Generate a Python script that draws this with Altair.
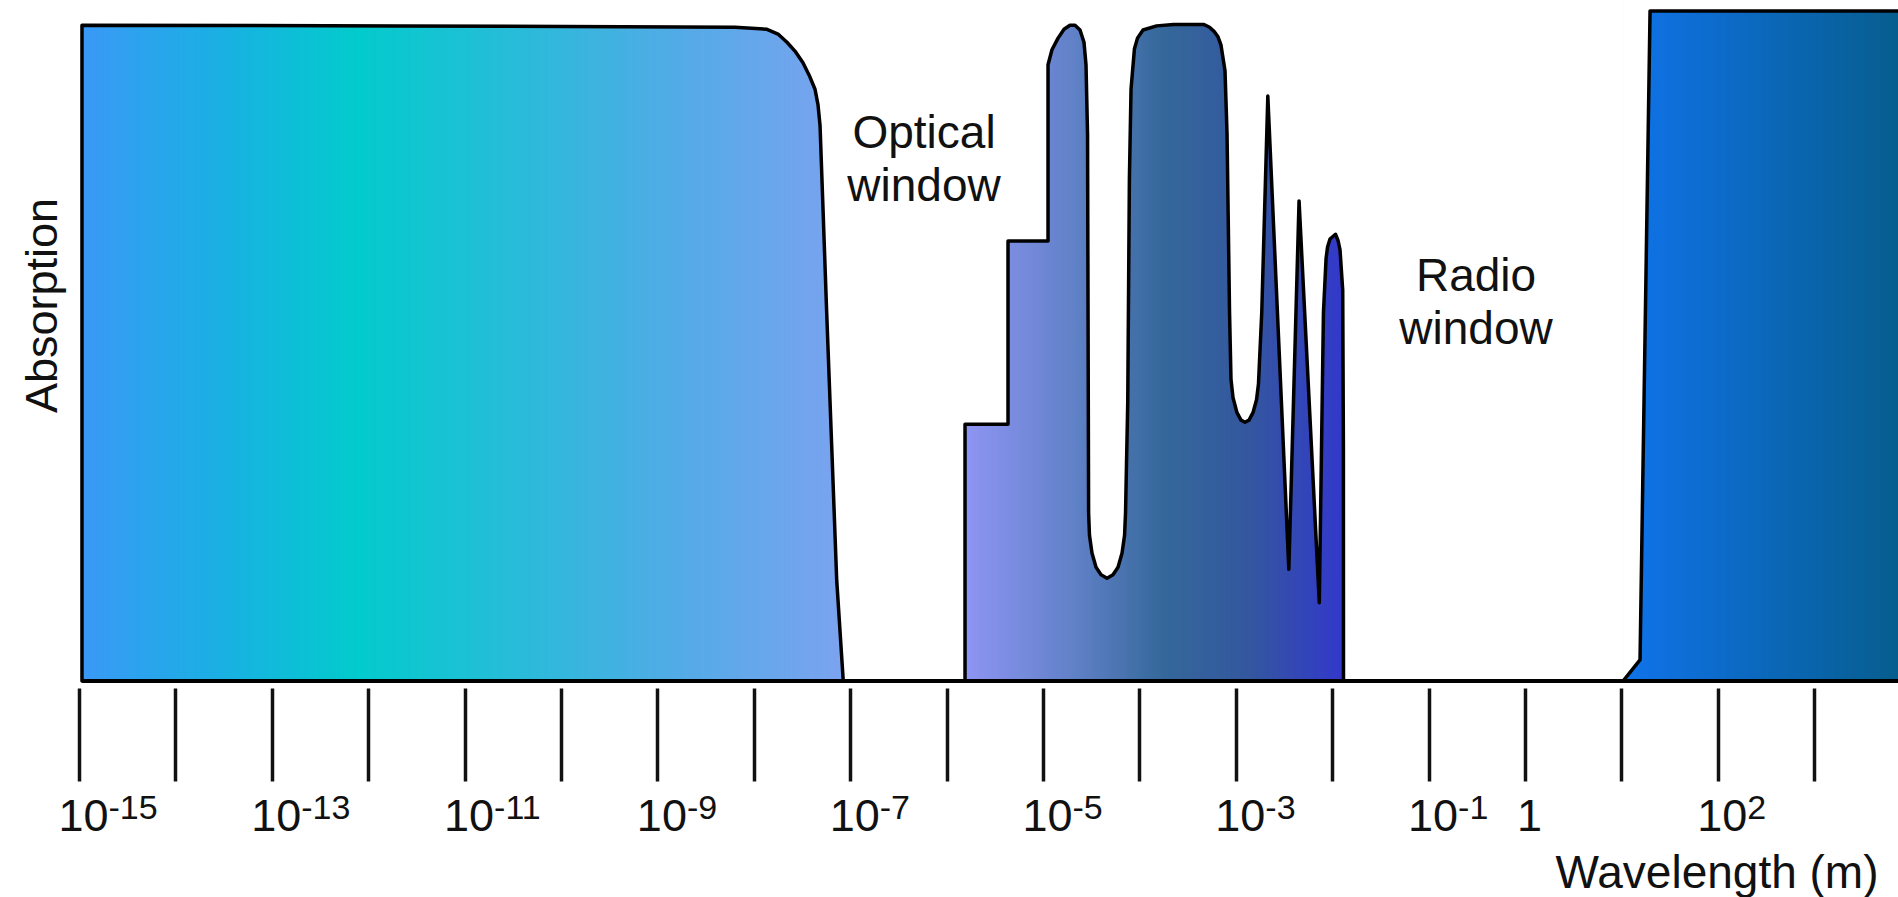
import altair as alt
import pandas as pd

# ---- data: x = log10(wavelength / m), y = absorption (% of full height)
gamma_logw = [-14.969, -14.969, -11.670, -8.195, -7.863, -7.749, -7.656, -7.573, -7.490,
              -7.427, -7.365, -7.334, -7.313, -7.285, -7.244, -7.192, -7.140, -7.072]
gamma_abs = [0.0, 96.3, 96.2, 96.0, 95.7, 95.0, 93.8, 92.5, 90.8,
             89.0, 86.9, 84.6, 81.6, 70.5, 54.1, 34.5, 14.8, 0.0]

ir_logw = [-5.809, -5.809, -5.363, -5.363, -4.948, -4.948, -4.907, -4.844, -4.782, -4.720,
           -4.668, -4.616, -4.575, -4.554, -4.538, -4.527, -4.518, -4.492, -4.450, -4.398,
           -4.336, -4.274, -4.222, -4.180, -4.154, -4.144, -4.121, -4.104, -4.087, -4.052,
           -4.020, -3.963, -3.822, -3.646, -3.330, -3.273, -3.226, -3.185, -3.154, -3.112,
           -3.091, -3.065, -3.050, -3.029, -2.988, -2.946, -2.905, -2.863, -2.822, -2.785,
           -2.765, -2.749, -2.731, -2.668, -2.450, -2.344, -2.134, -2.091, -2.064, -2.049,
           -2.023, -1.966, -1.940, -1.919, -1.891, -1.884, -1.883]
ir_abs = [0.0, 37.7, 37.7, 64.6, 64.6, 90.5, 92.7, 94.4, 95.7, 96.3,
          96.3, 95.6, 93.8, 90.5, 80.3, 24.7, 21.4, 18.8, 16.7, 15.6,
          15.1, 15.6, 16.7, 18.8, 21.4, 24.7, 41.0, 73.7, 86.9, 92.8,
          94.4, 95.6, 96.2, 96.4, 96.4, 96.0, 95.4, 94.6, 93.4, 89.6,
          80.3, 54.1, 44.3, 41.6, 39.4, 38.3, 38.0, 38.3, 39.4, 41.3,
          43.6, 48.6, 54.1, 85.9, 16.4, 70.5, 11.5, 54.1, 62.0, 63.7,
          64.9, 65.6, 64.7, 63.3, 57.4, 34.5, 0.0]

X_MIN, X_MAX = -15.197, 3.869

radio_logw = [1.017, 1.193, 1.297, X_MAX]
radio_abs = [0.0, 3.1, 98.4, 98.4]

tick_exponents = [-15, -14, -13, -12, -11, -10, -9, -8, -7, -6, -5, -4, -3, -2, -1, 0, 1, 2, 3]
labelled_exponents = [-15, -13, -11, -9, -7, -5, -3, -1, 0, 2]

annot_text = ["Optical\nwindow", "Radio\nwindow"]
annot_logw = [-6.234, -0.508]
annot_abs = [78.3, 57.3]

# colour stops of each block's left-to-right gradient (offset 0..1 across the block)
gamma_colors = ["#3A99F6", "#1AB0E3", "#03CBCC", "#25BDD8", "#52ABE6", "#7CA3F0"]
gamma_offsets = [0.0, 0.18, 0.36, 0.55, 0.78, 1.0]
ir_colors = ["#8E95F3", "#5E80C5", "#35689A", "#34579F", "#3338CC"]
ir_offsets = [0.0, 0.3, 0.52, 0.75, 1.0]
radio_colors = ["#1073EA", "#075E8E"]
radio_offsets = [0.0, 1.0]

W, H = 1838, 681
FONT = "Liberation Sans"
BAND_STEP = 0.02

xs = alt.Scale(domain=[X_MIN, X_MAX], nice=False, zero=False)
ys = alt.Scale(domain=[0, 100], nice=False, zero=True)


def stops(logw, offsets):
    a, b = logw[0], logw[-1]
    return [a + o * (b - a) for o in offsets]


color_domain = (stops(gamma_logw, gamma_offsets) + stops(ir_logw, ir_offsets)
                + stops(radio_logw, radio_offsets))
color_range = gamma_colors + ir_colors + radio_colors
cs = alt.Scale(domain=color_domain, range=color_range, interpolate="rgb")

y_axis = alt.Axis(title="Absorption", labels=False, ticks=False, domain=False, grid=False,
                  titleFontSize=45, titleFontWeight="normal", titleColor="#111",
                  titleX=-18, titleY=305, titleBaseline="middle", titleAngle=270)

lab_list = "[" + ",".join(str(v) for v in labelled_exponents) + "]"
base_expr = f"datum.value == 0 ? '1' : (indexof({lab_list}, datum.value) >= 0 ? '10' : '')"
sup_expr = f"(datum.value != 0 && indexof({lab_list}, datum.value) >= 0) ? ('' + datum.value) : ''"

base_axis = alt.Axis(values=tick_exponents, labelExpr=base_expr, orient="bottom",
                     tickSize=93, tickWidth=3.5, tickColor="#111", domain=False, grid=False,
                     offset=7, labelFontSize=45, labelBaseline="alphabetic", labelPadding=49,
                     labelAlign="center", labelOffset=4, labelOverlap=False, labelFlush=False,
                     labelColor="#111", labelFont=FONT,
                     title="Wavelength (m)", titleFontSize=46, titleFontWeight="normal",
                     titleColor="#111", titleAnchor="end", titleAlign="right",
                     titleBaseline="alphabetic", titleX=W - 20, titleY=199)

sup_axis = alt.Axis(values=labelled_exponents, labelExpr=sup_expr, orient="bottom",
                    ticks=True, tickSize=93, tickOpacity=0, domain=False, grid=False,
                    offset=7, labelFontSize=34, labelBaseline="alphabetic", labelPadding=37,
                    labelAlign="left", labelOffset=29, labelOverlap=False, labelFlush=False,
                    labelColor="#111", labelFont=FONT, title="")


def frame(xv, yv):
    return pd.DataFrame({"w": xv, "a": yv, "top": [100.0] * len(xv),
                         "i": list(range(len(xv)))})


def band_layer(logw):
    # colour bands for the left-to-right gradient fill; kept just inside the outline
    x0 = logw[0] + 0.006
    x1 = logw[-1] - 0.01 if logw[-1] < X_MAX else logw[-1]
    return alt.Chart(alt.sequence(x0, x1, BAND_STEP, as_="w")).transform_calculate(
        w2=f"min(datum.w + {BAND_STEP * 1.6}, {x1})"
    ).mark_rect(strokeWidth=0).encode(
        x=alt.X("w:Q", scale=xs, axis=None),
        x2="w2:Q",
        y=alt.Y(datum=0, scale=ys, axis=y_axis),
        y2=alt.datum(100),
        color=alt.Color("w:Q", scale=cs, legend=None),
    )


def mask_layer(df, xaxis=None):
    # white cover from the absorption curve up to the top of the plot
    return alt.Chart(df).mark_area(fill="white", fillOpacity=1, strokeWidth=0).encode(
        x=alt.X("w:Q", scale=xs, axis=xaxis),
        y=alt.Y("a:Q", scale=ys, axis=y_axis),
        y2="top:Q",
    )


def line_layer(df, xaxis=None):
    return alt.Chart(df).mark_line(color="#000", strokeWidth=3.5, strokeJoin="round",
                                   strokeCap="round").encode(
        x=alt.X("w:Q", scale=xs, axis=xaxis),
        y=alt.Y("a:Q", scale=ys, axis=y_axis),
        order="i:Q",
    )


d1 = frame(gamma_logw, gamma_abs)
d2 = frame(ir_logw, ir_abs)
d3 = frame(radio_logw, radio_abs)

base_df = pd.DataFrame({"w": [gamma_logw[0]], "w2": [X_MAX], "a": [0.0]})
baseline = alt.Chart(base_df).mark_rule(color="#000", strokeWidth=4).encode(
    x=alt.X("w:Q", scale=xs, axis=None), x2="w2:Q",
    y=alt.Y("a:Q", scale=ys, axis=y_axis),
)

ann_df = pd.DataFrame({"w": annot_logw, "a": annot_abs, "t": annot_text})
labels = alt.Chart(ann_df).mark_text(font=FONT, fontSize=46, align="center",
                                     baseline="alphabetic", lineBreak="\n", lineHeight=53,
                                     color="#111").encode(
    x=alt.X("w:Q", scale=xs, axis=None),
    y=alt.Y("a:Q", scale=ys, axis=y_axis),
    text="t:N",
)

chart = alt.layer(
    band_layer(gamma_logw),
    band_layer(ir_logw),
    band_layer(radio_logw),
    mask_layer(d1, base_axis),
    mask_layer(d2),
    mask_layer(d3),
    line_layer(d1, sup_axis),
    line_layer(d2),
    line_layer(d3),
    baseline,
    labels,
).resolve_axis(x="independent").properties(
    width=W, height=H,
    autosize=alt.AutoSizeParams(type="none"),
    padding={"left": 60, "top": 0, "right": 0, "bottom": 216},
    background="white",
).configure(font=FONT).configure_view(strokeWidth=0)

chart.save("out.html", embed_options={"renderer": "svg", "actions": False})
